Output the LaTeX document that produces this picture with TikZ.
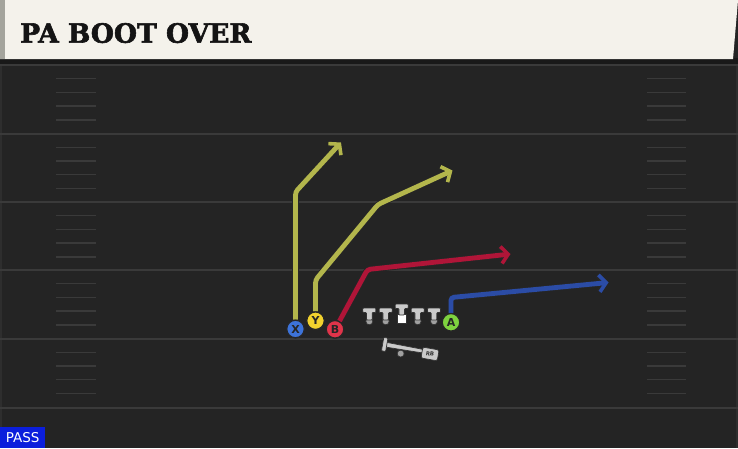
\documentclass[tikz,border=0pt]{standalone}
\usepackage{fontspec}
\usetikzlibrary{arrows.meta}
\newfontfamily\titlefont[FakeBold=2.2]{DejaVu Serif}
\newfontfamily\labelfont{DejaVu Sans}
\definecolor{field}{HTML}{242424}
\definecolor{fieldline}{HTML}{3A3A3A}
\definecolor{edgeline}{HTML}{2E2E2E}
\definecolor{headerbg}{HTML}{F4F2EB}
\definecolor{headerstripe}{HTML}{A4A49C}
\definecolor{routeyellow}{HTML}{B3B64C}
\definecolor{routered}{HTML}{B01538}
\definecolor{routeblue}{HTML}{2B4CA6}
\definecolor{xblue}{HTML}{3D73D9}
\definecolor{yyellow}{HTML}{F2D22E}
\definecolor{bred}{HTML}{E0344A}
\definecolor{agreen}{HTML}{7ED23F}
\definecolor{tgray}{HTML}{CACACA}
\definecolor{knobgray}{HTML}{A0A0A0}
\definecolor{passblue}{HTML}{0B1EDC}
\tikzset{
  yardline/.style={draw=fieldline, line width=2pt},
  hashmark/.style={draw=fieldline, line width=1.4pt},
  player/.style={circle, minimum size=17.5pt, inner sep=0pt, draw=black!85, line width=1.2pt,
    font=\labelfont\bfseries\fontsize{11}{11}\selectfont, text=black!85},
  route/.style={line width=4.8pt, rounded corners=3pt,
    -{Straight Barb[length=7pt,width=17pt,line width=3.6pt]},
    preaction={draw=black!85, line width=6.6pt,
      -{Straight Barb[length=7pt,width=17pt,line width=5.4pt]}}},
  tshape/.style={fill=tgray, draw=black!80, line width=0.7pt, rounded corners=0.8pt},
  knob/.style={fill=knobgray, draw=black!80, line width=0.7pt},
  lineman/.pic={
    \path[knob] (0,13.3) circle (3.5pt);
    \path[tshape] (-6.5,0) -- (6.5,0) -- (6.5,4.5) -- (2.8,4.5) -- (2.8,12) -- (-2.8,12) -- (-2.8,4.5) -- (-6.5,4.5) -- cycle;
  },
  centerman/.pic={
    \path[fill=white, draw=black!80, line width=0.7pt] (-4.2,10.8) rectangle (4.2,19);
    \path[tshape] (-6.5,0) -- (6.5,0) -- (6.5,4.5) -- (2.8,4.5) -- (2.8,11) -- (-2.8,11) -- (-2.8,4.5) -- (-6.5,4.5) -- cycle;
  }
}
\begin{document}
\begin{tikzpicture}[x=1pt,y=-1pt]
\useasboundingbox (0,0) rectangle (738,448);
% field
\fill[field] (0,0) rectangle (738,448);
\fill[black!90] (0,58) rectangle (738,64);
\fill[edgeline] (0,64) rectangle (2,448);
\fill[edgeline] (735.5,64) rectangle (738,448);
\foreach \yy in {65,133.5,202,270,338.5,407.5}
  \draw[yardline] (0,\yy) -- (738,\yy);
\foreach \yy in {65,133.5,202,270,338.5}
  \foreach \k in {1,2,3,4}{
    \draw[hashmark] (56,\yy+13.7*\k) -- (96,\yy+13.7*\k);
    \draw[hashmark] (647,\yy+13.7*\k) -- (686,\yy+13.7*\k);
  }
% header
\fill[headerbg] (0,0) -- (738,0) -- (733,59) -- (0,59) -- cycle;
\fill[headerstripe] (0,0) rectangle (5,59);
\node[anchor=base west, inner sep=0pt, text=black!92,
  font=\titlefont\bfseries\fontsize{26.5}{26.5}\selectfont] (title) at (20,42.7) {PA BOOT OVER};
% pass label
\node[fill=passblue, text=white, anchor=south west, inner sep=0pt,
  minimum width=45pt, minimum height=21pt,
  font=\labelfont\fontsize{13.5}{13.5}\selectfont] (pass) at (0,448) {PASS};
% offensive line
\foreach \xx in {369.3,385.7,417.7,434}
  \pic at (\xx,308) {lineman};
\pic at (401.7,304) {centerman};
% running back
\begin{scope}[shift={(385,344.5)}, rotate=-10]
  \path[knob] (17,6.2) circle (3.5pt);
  \path[tshape] (1,-2.4) -- (38,-1.8) -- (38,1.8) -- (1,2.4) -- cycle;
  \path[tshape] (-2.4,-6.8) rectangle (1.8,6.8);
  \node[fill=tgray, draw=black!80, line width=0.7pt, rounded corners=2pt, transform shape,
    minimum width=16.5pt, minimum height=11pt, inner sep=0pt, text=black!80,
    font=\labelfont\bfseries\fontsize{5.5}{5.5}\selectfont] (rb) at (46,1.5) {RB};
\end{scope}
% players
\node[player, fill=xblue] (X) at (295.5,329) {X};
\node[player, fill=yyellow] (Y) at (315.5,320.7) {Y};
\node[player, fill=bred] (B) at (335,329.3) {B};
\node[player, fill=agreen] (A) at (451,322.3) {A};
% route points
\coordinate (xb) at (295.5,192);
\coordinate (xe) at (341,142.5);
\coordinate (yb1) at (315.5,280);
\coordinate (yb2) at (378,204.5);
\coordinate (ye) at (452.5,170.5);
\coordinate (bb) at (367.5,269.5);
\coordinate (be) at (510.5,254);
\coordinate (ab) at (451,297.5);
\coordinate (ae) at (608.5,282.5);
% routes
\draw[route, routeyellow] (X.north) -- (xb) -- (xe);
\draw[route, routeyellow] (Y.north) -- (yb1) -- (yb2) -- (ye);
\draw[route, routered] (B) -- (bb) -- (be);
\draw[route, routeblue] (A.north) -- (ab) -- (ae);
% redraw players on top
\node[player, fill=xblue] at (X) {X};
\node[player, fill=yyellow] at (Y) {Y};
\node[player, fill=bred] at (B) {B};
\node[player, fill=agreen] at (A) {A};
\end{tikzpicture}
\end{document}
